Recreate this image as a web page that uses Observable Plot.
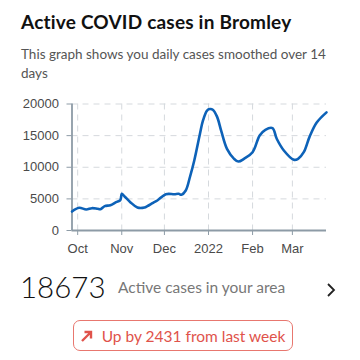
<!DOCTYPE html>
<html>
<head>
<meta charset="utf-8">
<script src="https://cdn.jsdelivr.net/npm/d3@7"></script>
<script src="https://cdn.jsdelivr.net/npm/@observablehq/plot@0.6"></script>
<style>
  body { margin:0; width:360px; height:360px; background:#fff; position:relative; overflow:hidden; font-family:Lato, "Noto Sans", sans-serif; }
  #title { position:absolute; left:21px; top:10px; font-size:19px; font-weight:700; color:#111; white-space:nowrap; letter-spacing:0.2px; }
  #subtitle { position:absolute; left:21px; top:45px; font-size:13.5px; line-height:19px; color:#555; }
  #chart { position:absolute; left:0; top:90px; }
  #big { position:absolute; left:20px; top:269px; font-size:29.5px; font-weight:300; color:#111; }
  #label { position:absolute; left:118px; top:278px; font-size:15.5px; color:#777; }
  #chev { position:absolute; left:325px; top:282px; }
  #badge { position:absolute; left:73px; top:320px; width:218px; height:29px; border:1.5px solid #e8776f; border-radius:7px; color:#e0534b; font-size:15.5px; display:flex; align-items:center; justify-content:center; gap:9px; }
  #chart svg text { font-family: "Liberation Sans", Arial, sans-serif; }
</style>
</head>
<body>
<div id="title"></div>
<div id="subtitle"></div>
<div id="chart"></div>
<div id="big"></div>
<div id="label"></div>
<svg id="chev" width="12" height="16"><polyline points="3,2 9,8 3,14" fill="none" stroke="#222" stroke-width="1.8"/></svg>
<div id="badge"><svg width="12" height="12"><path d="M1,11 L10,2 M3.5,2 L10,2 L10,8.5" fill="none" stroke="#e0534b" stroke-width="2.4"/></svg><span id="badgeText"></span></div>
<script>
const titleText = "Active COVID cases in Bromley";
const subtitleLines = ["This graph shows you daily cases smoothed over 14", "days"];
const dates = ["2021-09-27","2021-10-02","2021-10-07","2021-10-11","2021-10-15","2021-10-17","2021-10-20","2021-10-24","2021-10-28","2021-10-31","2021-11-01","2021-11-03","2021-11-07","2021-11-12","2021-11-17","2021-11-19","2021-11-23","2021-11-26","2021-12-02","2021-12-08","2021-12-11","2021-12-13","2021-12-16","2021-12-19","2021-12-22","2021-12-26","2021-12-28","2021-12-31","2022-01-02","2022-01-04","2022-01-07","2022-01-10","2022-01-14","2022-01-19","2022-01-22","2022-01-26","2022-02-01","2022-02-06","2022-02-10","2022-02-15","2022-02-18","2022-02-23","2022-03-02","2022-03-05","2022-03-09","2022-03-13","2022-03-18","2022-03-25"];
const cases = [3000,3590,3320,3530,3430,3370,3850,4000,4480,4800,5800,5380,4480,3640,3640,3850,4380,4740,5740,5740,5800,5650,6320,8500,11070,15300,17300,18970,19200,19100,18000,15700,12900,11330,10900,11330,12380,15020,15920,16180,14500,12650,11180,11330,12380,14760,17030,18673];
const yTicks = [0,5000,10000,15000,20000];
const xTicks = ["2021-10-01","2021-11-01","2021-12-01","2022-01-01","2022-02-01","2022-03-01"];
const xDomain = ["2021-09-27","2022-03-25"];
const activeCases = 18673;
const weeklyChange = 2431;

document.getElementById("title").textContent = titleText;
document.getElementById("subtitle").innerHTML = subtitleLines.join("<br>");
document.getElementById("big").textContent = activeCases;
document.getElementById("label").textContent = "Active cases in your area";
document.getElementById("badgeText").textContent = `Up by ${weeklyChange} from last week`;

const data = dates.map((d,i) => ({date:new Date(d), value:cases[i]}));
const xt = xTicks.map(d => new Date(d));
const axisColor = "#8d9ba6";
const fmt = d => d.getUTCMonth() === 0 ? String(d.getUTCFullYear()) : d3.utcFormat("%b")(d);
const font = "Liberation Sans";

const chart = Plot.plot({
  width: 360,
  height: 175,
  marginLeft: 71.5,
  marginRight: 34,
  marginTop: 13.5,
  marginBottom: 35,
  style: {fontSize: "13px", color:"#4a4a4a", background:"transparent"},
  x: {type:"utc", domain: xDomain.map(d => new Date(d))},
  y: {domain:[0,20000]},
  marks: [
    Plot.gridY(yTicks, {stroke:"#d5d9dd", strokeOpacity:1, strokeDasharray:"6,5"}),
    Plot.gridX(xt, {stroke:"#d5d9dd", strokeOpacity:1, strokeDasharray:"6,5"}),
    Plot.axisY(yTicks, {tickSize:5, tickPadding:8, stroke:axisColor, fill:"#4a4a4a", fontSize:13, fontFamily:font, label:null, tickFormat: d3.format("d")}),
    Plot.axisX(xt, {tickSize:5, tickPadding:8, stroke:axisColor, fill:"#4a4a4a", fontSize:13, fontFamily:font, label:null, tickFormat: fmt}),
    Plot.ruleY([0], {stroke:axisColor, strokeWidth:1.8}),
    Plot.ruleX([new Date(xDomain[0])], {stroke:axisColor, strokeWidth:1.8}),
    Plot.lineY(data, {x:"date", y:"value", stroke:"#0d62b8", strokeWidth:2.6, curve:"catmull-rom"})
  ]
});
document.getElementById("chart").appendChild(chart);
</script>
</body>
</html>
